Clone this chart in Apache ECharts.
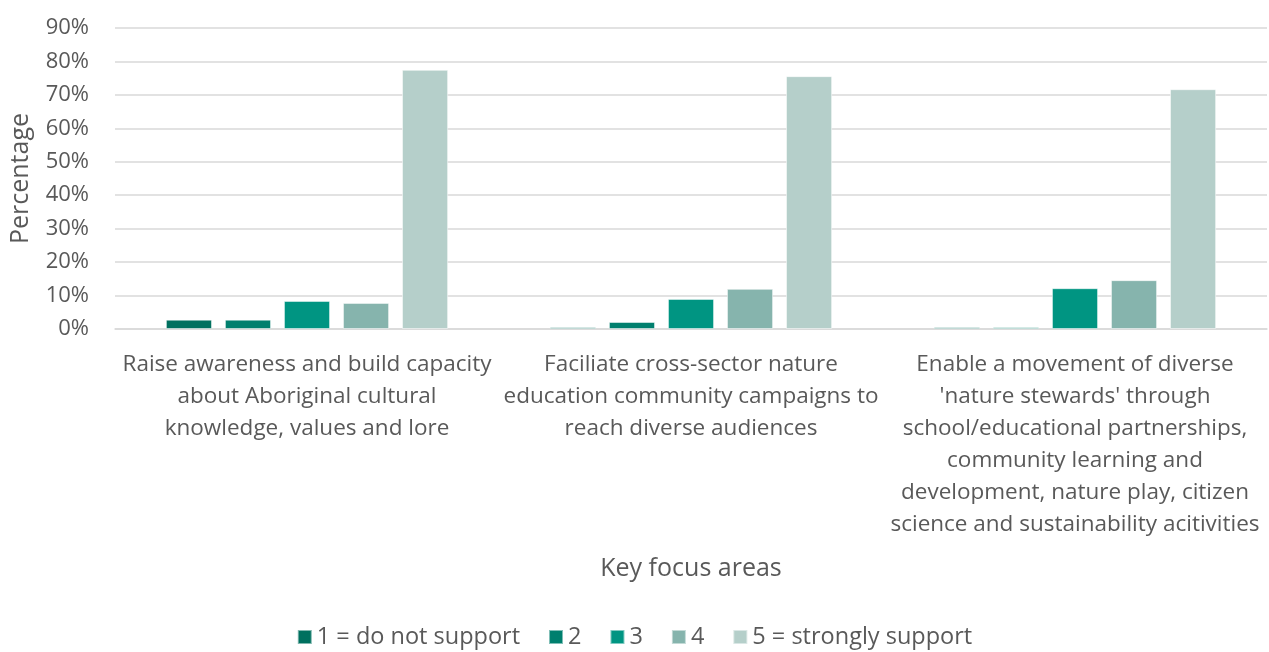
<!DOCTYPE html>
<html><head><meta charset="utf-8">
<script src="https://cdn.jsdelivr.net/npm/echarts@6/dist/echarts.min.js"></script>
<style>html,body{margin:0;padding:0;background:#fff}#c{width:1269px;height:652px}</style>
</head><body><div id="c"></div>
<script>
const categories = [
  "Raise awareness and build capacity\nabout Aboriginal cultural\nknowledge, values and lore",
  "Faciliate cross-sector nature\neducation community campaigns to\nreach diverse audiences",
  "Enable a movement of diverse\n'nature stewards' through\nschool/educational partnerships,\ncommunity learning and\ndevelopment, nature play, citizen\nscience and sustainability acitivities"
];
const seriesNames = ["1 = do not support", "2", "3", "4", "5 = strongly support"];
const s1 = [2.8, 0.5, 0.5];
const s2 = [2.8, 2.1, 0.5];
const s3 = [8.4, 9.0, 12.2];
const s4 = [7.8, 12.0, 14.6];
const s5 = [77.5, 75.6, 71.7];
const colors = ["#00705F", "#007F6E", "#009582", "#86B4AD", "#B5CFCA"];
const values = [s1, s2, s3, s4, s5];
const font = "'Open Sans', 'Noto Sans', sans-serif";
const chart = echarts.init(document.getElementById('c'));
chart.setOption({
  animation: false,
  textStyle: {fontFamily: font},
  legend: {
    bottom: -2, left: 'center', itemWidth: 14, itemHeight: 14, itemGap: 28,
    icon: 'rect',
    textStyle: {fontSize: 23.5, color: '#595959', fontFamily: font},
    data: seriesNames
  },
  grid: {left: 113, right: 2, top: 28, bottom: 323},
  xAxis: {
    type: 'category', data: categories,
    name: 'Key focus areas', nameLocation: 'middle', nameGap: 227,
    nameTextStyle: {fontSize: 25, color: '#595959', fontFamily: font},
    axisLine: {lineStyle: {color: '#d9d9d9', width: 1.5}},
    axisTick: {show: false},
    axisLabel: {fontSize: 22.5, color: '#595959', lineHeight: 32, margin: 20, interval: 0, fontFamily: font}
  },
  yAxis: {
    type: 'value', min: 0, max: 90, interval: 10,
    name: 'Percentage', nameLocation: 'middle', nameGap: 82, nameRotate: 90,
    nameTextStyle: {fontSize: 25, color: '#595959', fontFamily: font},
    axisLabel: {formatter: '{value}%', fontSize: 22, color: '#595959', margin: 26, fontFamily: font},
    axisLine: {show: false}, axisTick: {show: false},
    splitLine: {lineStyle: {color: '#d9d9d9', width: 1.5}}
  },
  series: seriesNames.map((n, i) => ({
    name: n, type: 'bar', data: values[i],
    barGap: '28%', barCategoryGap: '26.5%',
    itemStyle: {color: colors[i], borderColor: 'rgba(255,255,255,0.5)', borderWidth: 1}
  }))
});
</script></body></html>
